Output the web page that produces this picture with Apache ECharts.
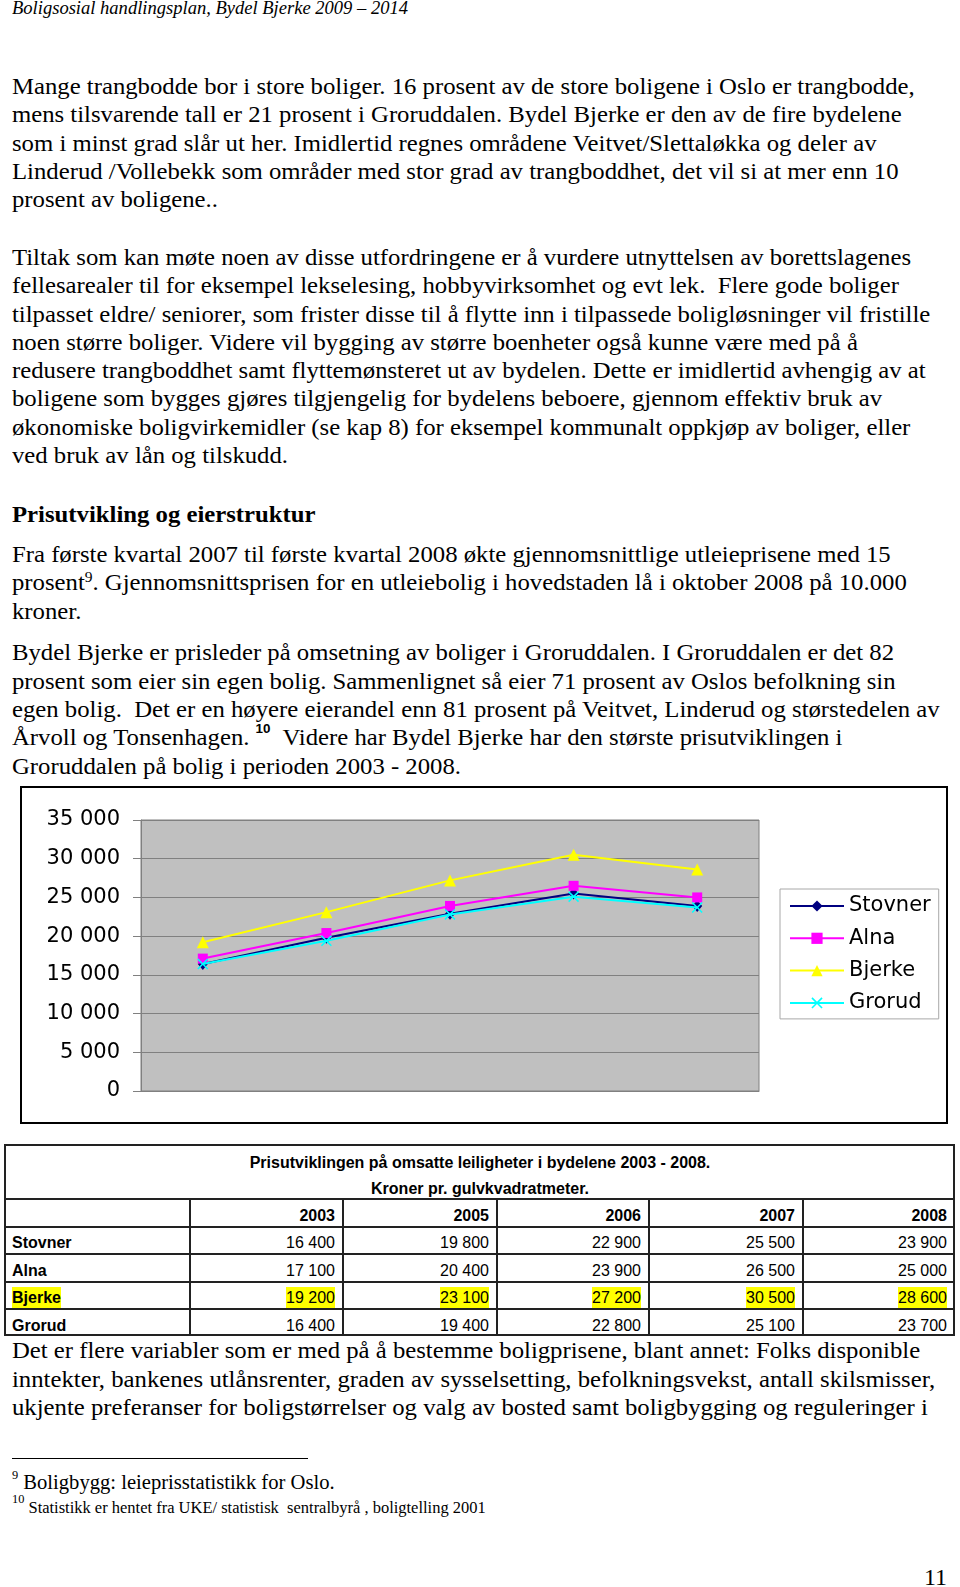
<!DOCTYPE html>
<html><head><meta charset="utf-8">
<script src="https://cdn.jsdelivr.net/npm/echarts@6/dist/echarts.min.js"></script>
<style>
html,body{margin:0;padding:0;background:#fff;}
body{width:960px;height:1587px;position:relative;overflow:hidden;}
.ln{position:absolute;white-space:pre;transform-origin:0 0;color:#000;}
.serif{font-family:"Liberation Serif","Times New Roman",serif;}
.sans{font-family:"Liberation Sans",Arial,sans-serif;}
#chart{position:absolute;left:20px;top:786px;width:928px;height:338px;border:2px solid #000;box-sizing:border-box;background:#fff;}
.hl{position:absolute;background:#222;}
.hi{background:#ffff00;padding:2px 0;}
</style></head><body>
<div id="chart"></div>
<script>
// ---- chart data ----
const years = ['2003', '2005', '2006', '2007', '2008'];
const seriesNames = ['Stovner', 'Alna', 'Bjerke', 'Grorud'];
const stovner = [16400, 19800, 22900, 25500, 23900];
const alna = [17100, 20400, 23900, 26500, 25000];
const bjerke = [19200, 23100, 27200, 30500, 28600];
const grorud = [16400, 19400, 22800, 25100, 23700];
const yTicks = { min: 0, max: 35000, interval: 5000 };

// ---- text helpers ----
function line(html, x, baseline, size, o) {
  o = o || {};
  const d = document.createElement('div');
  d.className = 'ln ' + (o.sans ? 'sans' : 'serif');
  d.style.fontSize = size + 'px';
  d.style.lineHeight = size + 'px';
  const k = o.sans ? 0.8465 : 0.8375;
  d.style.top = (baseline - k * size) + 'px';
  if (o.bold) d.style.fontWeight = 'bold';
  if (o.italic) d.style.fontStyle = 'italic';
  if (o.right) {
    d.style.left = (x - 300) + 'px'; d.style.width = '300px'; d.style.textAlign = 'right';
  } else if (o.center) {
    d.style.left = (x - 480) + 'px'; d.style.width = '960px'; d.style.textAlign = 'center';
  } else {
    d.style.left = x + 'px';
  }
  if (o.sx) d.style.transform = 'scaleX(' + o.sx + ')';
  d.innerHTML = html;
  document.body.appendChild(d);
}
function para(lines, firstBase, step, size, o) {
  lines.forEach((t, i) => line(t, 12, firstBase + i * step, size, o));
}
const SX = 1.03, F = 24, STEP = 28.3;
const sup9 = '<span style="position:relative;top:-8px;font-size:15px;line-height:0">9</span>';
const sup10 = '<span style="position:relative;top:-12px;font-size:13px;line-height:0;font-family:\'Liberation Sans\',Arial,sans-serif;font-weight:bold">10</span>';

line('Boligsosial handlingsplan, Bydel Bjerke 2009 – 2014', 12, 14, 18, { italic: true, sx: SX });

para([
  'Mange trangbodde bor i store boliger. 16 prosent av de store boligene i Oslo er trangbodde,',
  'mens tilsvarende tall er 21 prosent i Groruddalen. Bydel Bjerke er den av de fire bydelene',
  'som i minst grad slår ut her. Imidlertid regnes områdene Veitvet/Slettaløkka og deler av',
  'Linderud /Vollebekk som områder med stor grad av trangboddhet, det vil si at mer enn 10',
  'prosent av boligene..'
], 94, STEP, F, { sx: SX });

para([
  'Tiltak som kan møte noen av disse utfordringene er å vurdere utnyttelsen av borettslagenes',
  'fellesarealer til for eksempel lekselesing, hobbyvirksomhet og evt lek.  Flere gode boliger',
  'tilpasset eldre/ seniorer, som frister disse til å flytte inn i tilpassede boligløsninger vil fristille',
  'noen større boliger. Videre vil bygging av større boenheter også kunne være med på å',
  'redusere trangboddhet samt flyttemønsteret ut av bydelen. Dette er imidlertid avhengig av at',
  'boligene som bygges gjøres tilgjengelig for bydelens beboere, gjennom effektiv bruk av',
  'økonomiske boligvirkemidler (se kap 8) for eksempel kommunalt oppkjøp av boliger, eller',
  'ved bruk av lån og tilskudd.'
], 265, STEP, F, { sx: SX });

line('Prisutvikling og eierstruktur', 12, 522, F, { bold: true, sx: SX });

para([
  'Fra første kvartal 2007 til første kvartal 2008 økte gjennomsnittlige utleieprisene med 15',
  'prosent' + sup9 + '. Gjennomsnittsprisen for en utleiebolig i hovedstaden lå i oktober 2008 på 10.000',
  'kroner.'
], 562, STEP, F, { sx: SX });

para([
  'Bydel Bjerke er prisleder på omsetning av boliger i Groruddalen. I Groruddalen er det 82',
  'prosent som eier sin egen bolig. Sammenlignet så eier 71 prosent av Oslos befolkning sin',
  'egen bolig.  Det er en høyere eierandel enn 81 prosent på Veitvet, Linderud og størstedelen av',
  'Årvoll og Tonsenhagen. ' + sup10 + '  Videre har Bydel Bjerke har den største prisutviklingen i',
  'Groruddalen på bolig i perioden 2003 - 2008.'
], 660.4, STEP, F, { sx: SX });

para([
  'Det er flere variabler som er med på å bestemme boligprisene, blant annet: Folks disponible',
  'inntekter, bankenes utlånsrenter, graden av sysselsetting, befolkningsvekst, antall skilsmisser,',
  'ukjente preferanser for boligstørrelser og valg av bosted samt boligbygging og reguleringer i'
], 1358.4, STEP, F, { sx: SX });

// footnote rule
(function () {
  const r = document.createElement('div');
  r.className = 'hl'; r.style.background = '#000';
  r.style.left = '12px'; r.style.top = '1458px'; r.style.width = '296px'; r.style.height = '1px';
  document.body.appendChild(r);
})();
line('<span style="position:relative;top:-10px;font-size:12px;line-height:0">9</span> Boligbygg: leieprisstatistikk for Oslo.', 12, 1489, 20, { sx: SX });
line('<span style="position:relative;top:-10px;font-size:12px;line-height:0">10</span> Statistikk er hentet fra UKE/ statistisk  sentralbyrå , boligtelling 2001', 12, 1513, 16, { sx: SX });
line('11', 947, 1585, 24, { right: true });

// ---- table ----
(function () {
  const T = { left: 4, top: 1144, right: 955, bottom: 1336 };
  const colX = [4, 190, 343, 497, 649, 803, 955];
  const rowY = [1199, 1227, 1254, 1281.5, 1309];
  const box = document.createElement('div');
  box.style.cssText = 'position:absolute;box-sizing:border-box;border:2px solid #222;left:' + T.left + 'px;top:' + T.top + 'px;width:' + (T.right - T.left) + 'px;height:' + (T.bottom - T.top) + 'px;';
  document.body.appendChild(box);
  rowY.forEach(y => {
    const h = document.createElement('div'); h.className = 'hl';
    h.style.left = T.left + 'px'; h.style.width = (T.right - T.left) + 'px';
    h.style.top = (y - 1) + 'px'; h.style.height = '2px';
    document.body.appendChild(h);
  });
  colX.slice(1, -1).forEach(x => {
    const v = document.createElement('div'); v.className = 'hl';
    v.style.left = (x - 1) + 'px'; v.style.width = '2px';
    v.style.top = rowY[0] + 'px'; v.style.height = (T.bottom - rowY[0]) + 'px';
    document.body.appendChild(v);
  });
  const S = 16;
  line('Prisutviklingen på omsatte leiligheter i bydelene 2003 - 2008.', 480, 1169, S, { sans: true, bold: true, center: true });
  line('Kroner pr. gulvkvadratmeter.', 480, 1195, S, { sans: true, bold: true, center: true });
  years.forEach((y, i) => line(y, colX[i + 2] - 8, 1221.7, S, { sans: true, bold: true, right: true }));
  const fmt = v => Math.floor(v / 1000) + ' ' + String(v % 1000).padStart(3, '0');
  const rows = [stovner, alna, bjerke, grorud];
  const bases = [1249, 1276.7, 1304, 1331.3];
  rows.forEach((vals, r) => {
    const hl = seriesNames[r] === 'Bjerke';
    const wrap = t => hl ? '<span class="hi">' + t + '</span>' : t;
    line(wrap(seriesNames[r]), 12, bases[r], S, { sans: true, bold: true });
    vals.forEach((v, i) => line(wrap(fmt(v)), colX[i + 2] - 8, bases[r], S, { sans: true, right: true }));
  });
})();

// ---- chart ----
const chart = echarts.init(document.getElementById('chart'), null, { renderer: 'canvas' });
const xPath = 'path://M0,1L1,0L5,4L9,0L10,1L6,5L10,9L9,10L5,6L1,10L0,9L4,5Z';
const colors = ['#000080', '#ff00ff', '#ffff00', '#00ffff'];
const symbols = ['diamond', 'rect', 'triangle', xPath];
const sizes = [[10, 12], 10, 12, 11];
const datas = [stovner, alna, bjerke, grorud];
chart.setOption({
  animation: false,
  grid: { left: 119, top: 32, width: 618, height: 271, show: true, backgroundColor: '#c0c0c0', borderColor: '#808080', borderWidth: 1 },
  xAxis: {
    type: 'category', data: years, boundaryGap: true,
    axisLabel: { show: false }, axisTick: { show: false },
    axisLine: { show: true, lineStyle: { color: '#808080', width: 1 } },
    splitLine: { show: false }
  },
  yAxis: {
    type: 'value', min: yTicks.min, max: yTicks.max, interval: yTicks.interval,
    axisLine: { show: true, lineStyle: { color: '#808080', width: 1 } },
    axisTick: { show: true, length: 8, lineStyle: { color: '#808080' } },
    axisLabel: {
      margin: 21, color: '#000', fontSize: 21, fontFamily: 'DejaVu Sans',
      formatter: v => v === 0 ? '0' : (v / 1000) + ' 000'
    },
    splitLine: { show: true, lineStyle: { color: '#808080', width: 1 } }
  },
  legend: {
    orient: 'vertical', left: 758, top: 101,
    itemWidth: 54, itemHeight: 14, itemGap: 10.3,
    padding: [6, 8, 5, 9],
    backgroundColor: '#fff', borderColor: '#a8a8a8', borderWidth: 1,
    textStyle: { fontSize: 21, fontFamily: 'DejaVu Sans', color: '#000', lineHeight: 22 },
    data: seriesNames
  },
  series: seriesNames.map((n, i) => ({
    name: n, type: 'line', data: datas[i],
    symbol: symbols[i], symbolSize: sizes[i],
    lineStyle: { color: colors[i], width: 2 },
    itemStyle: { color: colors[i] },
    z: 2 + i
  }))
});
</script>
</body></html>
